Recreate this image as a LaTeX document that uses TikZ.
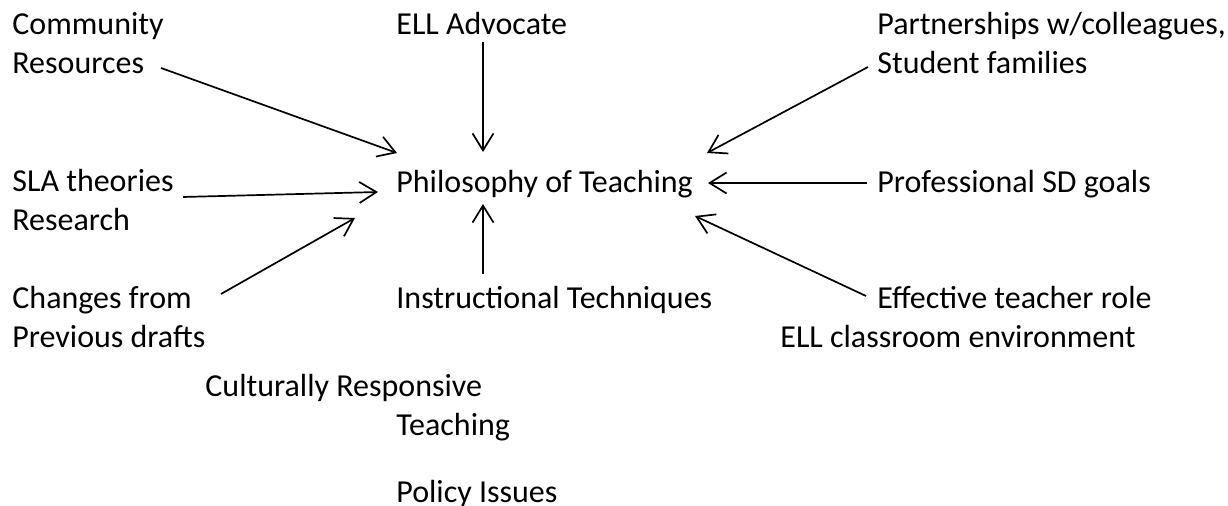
\documentclass[tikz,border=0pt]{standalone}
\usepackage{fontspec}
\setmainfont{Carlito}
\usetikzlibrary{arrows.meta}
\begin{document}
\begin{tikzpicture}[
  x=0.5pt, y=-0.5pt,
  lbl/.style={
    anchor=base west,
    inner sep=0pt,
    align=left,
    font=\fontsize{16}{19.5}\selectfont
  },
  feed/.style={draw, line width=0.85pt, -{Straight Barb[length=8.5pt,width=10.5pt]}}
]
\useasboundingbox (0,0) rectangle (1228,506);

% --- labels (base = last line) ---
\node[lbl] (comm)  at (12,74)   {Community\\Resources};
\node[lbl] (ella)  at (396,35)  {ELL Advocate};
\node[lbl] (part)  at (877,74)  {Partnerships w/colleagues,\\Student families};

\node[lbl] (sla)   at (12,231)  {SLA theories\\Research};
\node[lbl] (phil)  at (396,193) {Philosophy of Teaching};
\node[lbl] (prof)  at (877,193) {Professional SD goals};

\node[lbl] (chg)   at (12,348)  {Changes from\\Previous drafts};
\node[lbl] (instr) at (396,309) {Instructional Techniques};
\node[lbl] (eff)   at (877,309) {Effective teacher role};
\node[lbl] (ellc)  at (780,348) {ELL classroom environment};

\node[lbl] (cult)  at (205,397) {Culturally Responsive};
\node[lbl] (teach) at (396,436) {Teaching};
\node[lbl] (pol)   at (396,503) {Policy Issues};

% --- arrows into the centre ---
\draw[feed] ([shift={(149,-6)}]comm.base west) -- ([shift={(1,-40)}]phil.base west);
\draw[feed] ([shift={(87,7)}]ella.base west)   -- ([shift={(87,-41)}]phil.base west);
\draw[feed] ([shift={(-9,-7)}]part.base west)  -- ([shift={(311,-40)}]phil.base west);
\draw[feed] ([shift={(-10,-10)}]prof.base west) -- ([shift={(312,-10)}]phil.base west);
\draw[feed] ([shift={(-11,-13)}]eff.base west) -- ([shift={(299,23)}]phil.base west);
\draw[feed] ([shift={(87,-35)}]instr.base west) -- ([shift={(87,11)}]phil.base west);
\draw[feed] ([shift={(171,-34)}]sla.base west) -- ([shift={(-18,-1)}]phil.base west);
\draw[feed] ([shift={(209,-54)}]chg.base west) -- ([shift={(-41,25)}]phil.base west);

\end{tikzpicture}
\end{document}
